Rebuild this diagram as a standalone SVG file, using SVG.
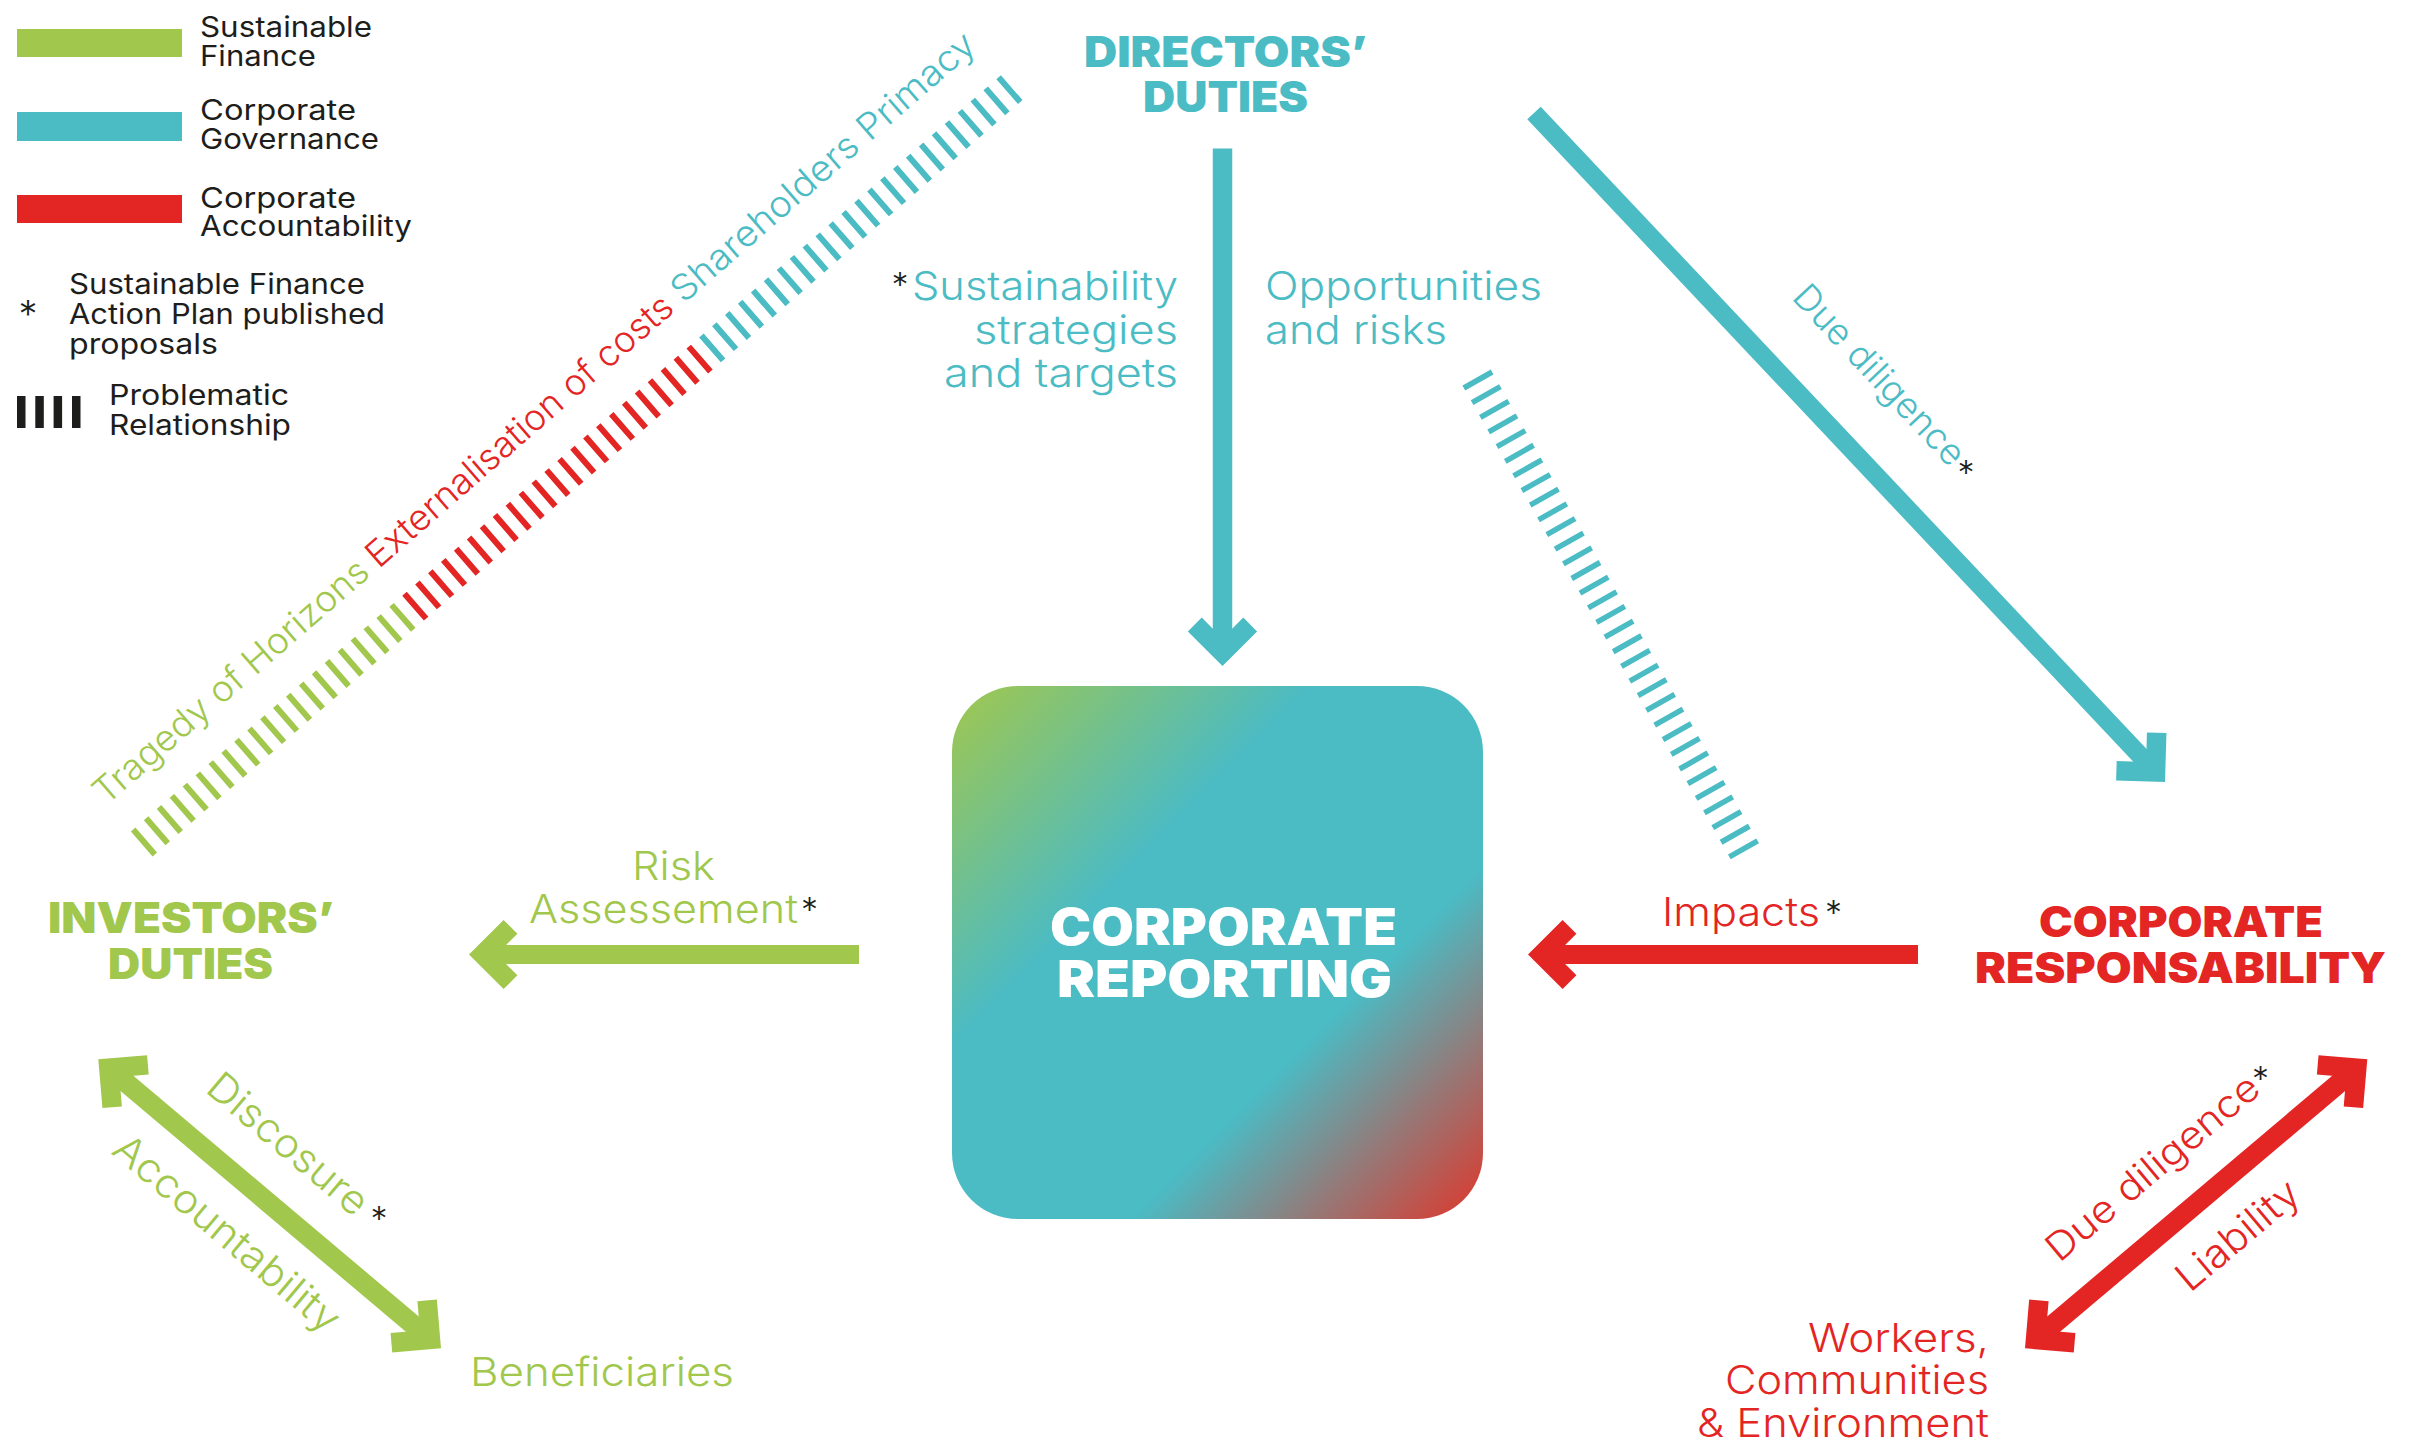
<svg xmlns="http://www.w3.org/2000/svg" xmlns:xlink="http://www.w3.org/1999/xlink" width="2410" height="1443" viewBox="0 0 2410 1443">
<style>
.lbl{font-family:Inter,"Liberation Sans","DejaVu Sans",sans-serif;font-weight:300;font-size:40px}
.ttl{font-family:Inter,"Liberation Sans","DejaVu Sans",sans-serif;font-weight:900;font-size:42px}
.leg{font-family:Inter,"Liberation Sans","DejaVu Sans",sans-serif;font-weight:400;font-size:28px;fill:#1d1d1b}
.ast{font-family:Inter,"Liberation Sans","DejaVu Sans",sans-serif;font-weight:300;font-size:34px;fill:#1d1d1b;text-anchor:middle}
.g{fill:#a1c74d}.t{fill:#4bbbc4}.r{fill:#e32523}.w{fill:#ffffff}
.end{text-anchor:end}
.shaft{fill:none;stroke-linecap:butt}
.sg{stroke:#a1c74d}.st{stroke:#4bbbc4}.sr{stroke:#e32523}
.hatch{fill:none;stroke-width:33;stroke-dasharray:6 11.12}
</style>
<defs>
<linearGradient id="repGrad" x1="0" y1="0" x2="1" y2="1">
<stop offset="0" stop-color="#a1c74d"/>
<stop offset="0.34" stop-color="#4bbbc4"/>
<stop offset="0.67" stop-color="#4bbbc4"/>
<stop offset="1" stop-color="#e0362a"/>
</linearGradient>
<path id="chev" d="M0 0 L-34.6 -34.6 L-48.4 -20.8 L-27.6 0 L-48.4 20.8 L-34.6 34.6 Z"/>
</defs>
<rect width="2410" height="1443" fill="#ffffff"/>

<g id="legend">
<rect x="17" y="29" width="165" height="28" class="g"/>
<rect x="17" y="112" width="165" height="29" class="t"/>
<rect x="17" y="195" width="165" height="28" class="r"/>
<text class="leg" x="200" y="36.5" textLength="172" lengthAdjust="spacingAndGlyphs">Sustainable</text>
<text class="leg" x="200" y="65.5" textLength="116" lengthAdjust="spacingAndGlyphs">Finance</text>
<text class="leg" x="200" y="119.5" textLength="156" lengthAdjust="spacingAndGlyphs">Corporate</text>
<text class="leg" x="200" y="148.5" textLength="179" lengthAdjust="spacingAndGlyphs">Governance</text>
<text class="leg" x="200" y="207.5" textLength="156" lengthAdjust="spacingAndGlyphs">Corporate</text>
<text class="leg" x="200" y="236" textLength="212" lengthAdjust="spacingAndGlyphs">Accountability</text>
<text class="ast" x="28" y="328" style="font-size:38px">*</text>
<text class="leg" x="69" y="293.5" textLength="296" lengthAdjust="spacingAndGlyphs">Sustainable Finance</text>
<text class="leg" x="69" y="323.5" textLength="316" lengthAdjust="spacingAndGlyphs">Action Plan published</text>
<text class="leg" x="69" y="353.5" textLength="149" lengthAdjust="spacingAndGlyphs">proposals</text>
<rect x="17" y="396" width="8.5" height="32" fill="#1d1d1b"/>
<rect x="35.3" y="396" width="8.5" height="32" fill="#1d1d1b"/>
<rect x="53.6" y="396" width="8.5" height="32" fill="#1d1d1b"/>
<rect x="72" y="396" width="8.5" height="32" fill="#1d1d1b"/>
<text class="leg" x="109" y="405" textLength="180" lengthAdjust="spacingAndGlyphs">Problematic</text>
<text class="leg" x="109" y="435" textLength="182" lengthAdjust="spacingAndGlyphs">Relationship</text>
</g>

<g id="node-directors">
<text class="ttl t" x="1084" y="66.5" textLength="283" lengthAdjust="spacingAndGlyphs">DIRECTORS’</text>
<text class="ttl t" x="1143" y="112" textLength="165" lengthAdjust="spacingAndGlyphs">DUTIES</text>
</g>

<g id="node-investors">
<text class="ttl g" x="48" y="933" textLength="286" lengthAdjust="spacingAndGlyphs">INVESTORS’</text>
<text class="ttl g" x="108" y="979" textLength="165" lengthAdjust="spacingAndGlyphs">DUTIES</text>
</g>

<g id="node-responsability">
<text class="ttl r" x="2039" y="937" textLength="284" lengthAdjust="spacingAndGlyphs">CORPORATE</text>
<text class="ttl r" x="1975" y="983" textLength="411" lengthAdjust="spacingAndGlyphs">RESPONSABILITY</text>
</g>

<g id="node-reporting">
<rect x="952" y="686" width="531" height="533" rx="66" ry="66" fill="url(#repGrad)"/>
<text class="ttl w" x="1050" y="944.5" style="font-size:51px" textLength="347" lengthAdjust="spacingAndGlyphs">CORPORATE</text>
<text class="ttl w" x="1057" y="996.5" style="font-size:51px" textLength="335" lengthAdjust="spacingAndGlyphs">REPORTING</text>
</g>

<g id="node-beneficiaries">
<text class="lbl g" x="470" y="1386" textLength="264" lengthAdjust="spacingAndGlyphs">Beneficiaries</text>
</g>

<g id="node-workers">
<text class="lbl r end" x="1989" y="1352" textLength="181" lengthAdjust="spacingAndGlyphs">Workers,</text>
<text class="lbl r end" x="1989" y="1394" textLength="264" lengthAdjust="spacingAndGlyphs">Communities</text>
<text class="lbl r end" x="1989" y="1437" textLength="292" lengthAdjust="spacingAndGlyphs">&amp; Environment</text>
</g>

<g id="connectors">
<line class="hatch sg" x1="141.74" y1="843.97" x2="406.64" y2="613.68"/>
<line class="hatch sr" x1="413.05" y1="608.11" x2="704.0" y2="355.2"/>
<line class="hatch st" x1="710.0" y1="349.9" x2="1011.9" y2="87.5"/>
<line class="st" x1="1476.6" y1="377.6" x2="1744.9" y2="851.4" style="fill:none;stroke-width:32.5;stroke-dasharray:5.5 11.34"/>

<line class="shaft st" x1="1222.5" y1="148.5" x2="1222.5" y2="648" stroke-width="19.5"/>
<use xlink:href="#chev" class="t" transform="translate(1222.5 666) rotate(90)"/>

<line class="shaft st" x1="1534" y1="113" x2="2151" y2="767" stroke-width="18.5"/>
<use xlink:href="#chev" class="t" transform="translate(2165 782) rotate(46.7)"/>

<line class="shaft sg" x1="488" y1="954.5" x2="859" y2="954.5" stroke-width="19"/>
<use xlink:href="#chev" class="g" transform="translate(469 954.5) rotate(180)"/>

<line class="shaft sr" x1="1547" y1="954.5" x2="1918" y2="954.5" stroke-width="19"/>
<use xlink:href="#chev" class="r" transform="translate(1528 954.5) rotate(180)"/>

<line class="shaft sg" x1="113.6" y1="1072.2" x2="425.7" y2="1335.4" stroke-width="20"/>
<use xlink:href="#chev" class="g" transform="translate(98.3 1059.3) rotate(220.14)"/>
<use xlink:href="#chev" class="g" transform="translate(441 1348.3) rotate(40.14)"/>

<line class="shaft sr" x1="2352" y1="1072.2" x2="2040.3" y2="1335.4" stroke-width="20"/>
<use xlink:href="#chev" class="r" transform="translate(2367.3 1059.3) rotate(-40.14)"/>
<use xlink:href="#chev" class="r" transform="translate(2025 1348.3) rotate(139.86)"/>
</g>

<g id="labels">
<text class="lbl g" transform="translate(106 806) rotate(-41)" style="font-size:36px" textLength="352" lengthAdjust="spacingAndGlyphs">Tragedy of Horizons</text>
<text class="lbl r" transform="translate(378.7 569.2) rotate(-41)" style="font-size:36px" textLength="394" lengthAdjust="spacingAndGlyphs">Externalisation of costs</text>
<text class="lbl t" transform="translate(683.7 304.1) rotate(-41)" style="font-size:36px" textLength="390" lengthAdjust="spacingAndGlyphs">Shareholders Primacy</text>

<text class="ast" x="900" y="297">*</text>
<text class="lbl t end" x="1178" y="300" textLength="266" lengthAdjust="spacingAndGlyphs">Sustainability</text>
<text class="lbl t end" x="1178" y="343.5" textLength="204" lengthAdjust="spacingAndGlyphs">strategies</text>
<text class="lbl t end" x="1178" y="387" textLength="234" lengthAdjust="spacingAndGlyphs">and targets</text>

<text class="lbl t" x="1265" y="299.5" textLength="277" lengthAdjust="spacingAndGlyphs">Opportunities</text>
<text class="lbl t" x="1265" y="343.5" textLength="182" lengthAdjust="spacingAndGlyphs">and risks</text>

<text class="lbl t" transform="translate(1790.7 298.3) rotate(46.9)" style="font-size:36px" textLength="233" lengthAdjust="spacingAndGlyphs">Due diligence</text>
<text class="ast" x="1966" y="485">*</text>

<text class="lbl g" x="632" y="880" textLength="83" lengthAdjust="spacingAndGlyphs">Risk</text>
<text class="lbl g" x="529" y="923" textLength="269" lengthAdjust="spacingAndGlyphs">Assessement</text>
<text class="ast" x="809.5" y="921.5">*</text>

<text class="lbl r" x="1662" y="925.5" textLength="158" lengthAdjust="spacingAndGlyphs">Impacts</text>
<text class="ast" x="1833.5" y="925">*</text>

<text class="lbl g" transform="translate(204 1091) rotate(40.14)" textLength="197" lengthAdjust="spacingAndGlyphs">Discosure</text>
<text class="ast" x="379" y="1230.5">*</text>
<text class="lbl g" transform="translate(110 1152.7) rotate(40.14)" textLength="283" lengthAdjust="spacingAndGlyphs">Accountability</text>

<text class="lbl r" transform="translate(2059.3 1263.3) rotate(-40.14)" style="font-size:38px" textLength="266" lengthAdjust="spacingAndGlyphs">Due diligence</text>
<text class="ast" x="2260.5" y="1090.5">*</text>
<text class="lbl r" transform="translate(2190 1293.3) rotate(-40.14)" textLength="148" lengthAdjust="spacingAndGlyphs">Liability</text>
</g>
</svg>
